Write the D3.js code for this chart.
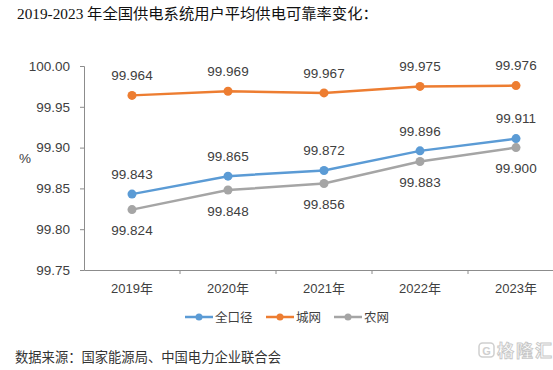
<!DOCTYPE html>
<html>
<head>
<meta charset="utf-8">
<script src="https://cdn.jsdelivr.net/npm/d3@7"></script>
<style>
  body { margin: 0; background: #fff; }
  svg { display: block; }
</style>
</head>
<body>
<div id="chart"></div>
<script>
const years = ["2019年", "2020年", "2021年", "2022年", "2023年"];
const seriesNames = ["全口径", "城网", "农网"];
const allValues = [99.843, 99.865, 99.872, 99.896, 99.911];
const cityValues = [99.964, 99.969, 99.967, 99.975, 99.976];
const ruralValues = [99.824, 99.848, 99.856, 99.883, 99.900];
const yTicks = [99.75, 99.80, 99.85, 99.90, 99.95, 100.00];

const width = 553, height = 370;
const colors = ["#5B9BD5", "#ED7D31", "#A5A5A5"];
const labelPos = [-20, -20, 21]; // offset of value labels from the point

const svg = d3.select("#chart").append("svg")
  .attr("width", width)
  .attr("height", height);

const x = d3.scaleBand().domain(years).range([84, 564]);
const y = d3.scaleLinear().domain([99.75, 100.00]).range([270, 66]);

const numFont = "'Liberation Sans', Arial, sans-serif";
const cjkFont = "'Noto Sans CJK SC', sans-serif";

// title
svg.append("text")
  .attr("x", 17).attr("y", 19)
  .style("font-family", "'Liberation Serif', 'Noto Sans CJK SC', serif")
  .style("font-size", "15.3px")
  .attr("fill", "#111")
  .text("2019-2023 年全国供电系统用户平均供电可靠率变化：");

// y axis
const yAxis = svg.append("g")
  .attr("transform", "translate(84,0)")
  .call(d3.axisLeft(y).tickValues(yTicks).tickFormat(d3.format(".2f")).tickSize(4).tickPadding(10));
yAxis.selectAll("path, line").attr("stroke", "#8c8c8c");
yAxis.selectAll("text")
  .attr("fill", "#404040")
  .style("font-family", numFont)
  .style("font-size", "13.5px");

// x axis
const xAxis = svg.append("g")
  .attr("transform", "translate(0,270)")
  .call(d3.axisBottom(x).tickSize(0).tickPadding(14));
xAxis.select("path").attr("stroke", "#8c8c8c");
xAxis.selectAll("text")
  .attr("fill", "#404040")
  .style("font-family", numFont + ", " + cjkFont)
  .style("font-size", "13px");
// tick marks at category boundaries
xAxis.selectAll(".bound")
  .data(years.slice(1))
  .enter().append("line")
  .attr("x1", d => x(d)).attr("x2", d => x(d))
  .attr("y1", 0).attr("y2", 4)
  .attr("stroke", "#8c8c8c");

// % label
svg.append("text")
  .attr("x", 19).attr("y", 163)
  .attr("fill", "#404040")
  .style("font-family", numFont)
  .style("font-size", "13.5px")
  .text("%");

const data = [allValues, cityValues, ruralValues];
const line = d3.line()
  .x((d, i) => x(years[i]) + x.bandwidth() / 2)
  .y(d => y(d));

// draw gray first, then blue, then orange
[2, 0, 1].forEach(s => {
  const vals = data[s];
  svg.append("path")
    .datum(vals)
    .attr("d", line)
    .attr("fill", "none")
    .attr("stroke", colors[s])
    .attr("stroke-width", 2.5);

  svg.selectAll(".pt" + s)
    .data(vals)
    .enter().append("circle")
    .attr("cx", (d, i) => x(years[i]) + x.bandwidth() / 2)
    .attr("cy", d => y(d))
    .attr("r", 4.5)
    .attr("fill", colors[s]);

  svg.selectAll(".lb" + s)
    .data(vals)
    .enter().append("text")
    .attr("x", (d, i) => x(years[i]) + x.bandwidth() / 2)
    .attr("y", d => y(d) + labelPos[s])
    .attr("dy", "0.35em")
    .attr("text-anchor", "middle")
    .attr("fill", "#404040")
    .style("font-family", numFont)
    .style("font-size", "13.5px")
    .text(d => d3.format(".3f")(d));
});

// legend
const legendX = [185, 266, 334];
const legend = svg.selectAll(".legend")
  .data(seriesNames)
  .enter().append("g")
  .attr("transform", (d, i) => "translate(" + legendX[i] + ",317)");
legend.append("line")
  .attr("x1", 0).attr("x2", 28)
  .attr("stroke", (d, i) => colors[i])
  .attr("stroke-width", 2.5);
legend.append("circle")
  .attr("cx", 14).attr("r", 3.5)
  .attr("fill", (d, i) => colors[i]);
legend.append("text")
  .attr("x", 30).attr("dy", "0.36em")
  .attr("fill", "#404040")
  .style("font-family", cjkFont)
  .style("font-size", "12.5px")
  .text(d => d);

// source
svg.append("text")
  .attr("x", 15).attr("y", 362)
  .attr("fill", "#333")
  .style("font-family", "'Noto Sans CJK SC', serif")
  .style("font-size", "13.3px")
  .text("数据来源：国家能源局、中国电力企业联合会");

// watermark
svg.append("rect")
  .attr("x", 479).attr("y", 343).attr("width", 15).attr("height", 14).attr("rx", 3.5)
  .attr("fill", "none").attr("stroke", "#cfcfcf").attr("stroke-width", 1.5);
svg.append("text")
  .attr("x", 486.5).attr("y", 354.5)
  .attr("text-anchor", "middle")
  .attr("fill", "#cfcfcf")
  .style("font-family", numFont)
  .style("font-size", "11px")
  .style("font-weight", "bold")
  .text("G");
svg.append("text")
  .attr("x", 497).attr("y", 356.5)
  .attr("fill", "#fff")
  .attr("stroke", "#c8c8c8")
  .attr("stroke-width", 0.9)
  .style("font-family", cjkFont)
  .style("font-size", "17px")
  .style("font-weight", "bold")
  .attr("textLength", 55)
  .text("格隆汇");
</script>
</body>
</html>
